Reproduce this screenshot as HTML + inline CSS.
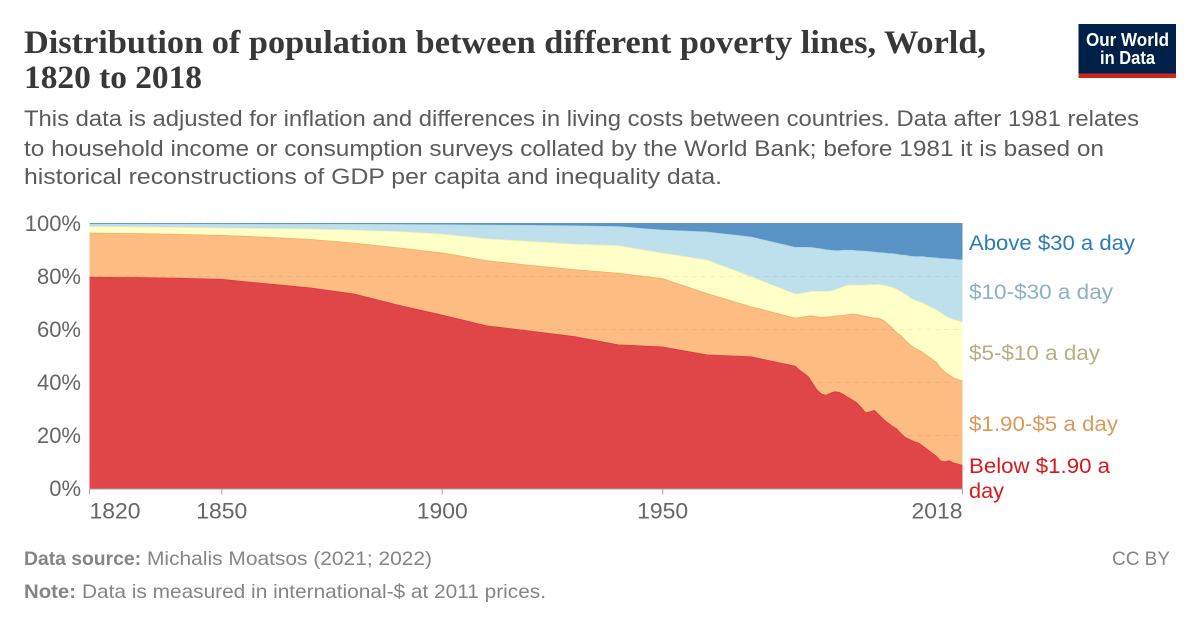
<!DOCTYPE html>
<html lang="en">
<head>
<meta charset="utf-8">
<title>Distribution of population between different poverty lines, World, 1820 to 2018</title>
<style>
html,body{margin:0;padding:0;background:#fff;width:1200px;height:627px;overflow:hidden}
svg{display:block;font-family:"Liberation Sans",sans-serif}
.title{font-family:"Liberation Serif",serif;font-weight:700;font-size:33px;fill:#383838}
.sub{font-size:22.5px;fill:#5b5b5b}
.foot{font-size:19.5px;fill:#858585}
.tick{font-size:22px;fill:#666}
.legend{font-size:21.5px}
</style>
</head>
<body>
<svg id="figure" xmlns="http://www.w3.org/2000/svg" width="1200" height="627" viewBox="0 0 1200 627">
  <rect x="0" y="0" width="1200" height="627" fill="#fff"/>
  <text class="title" x="24" y="53" textLength="962" lengthAdjust="spacingAndGlyphs">Distribution of population between different poverty lines, World,</text>
  <text class="title" x="24" y="88" textLength="178" lengthAdjust="spacingAndGlyphs">1820 to 2018</text>
  <text class="sub" x="24" y="126" textLength="1115" lengthAdjust="spacingAndGlyphs">This data is adjusted for inflation and differences in living costs between countries. Data after 1981 relates</text>
  <text class="sub" x="24" y="156" textLength="1080" lengthAdjust="spacingAndGlyphs">to household income or consumption surveys collated by the World Bank; before 1981 it is based on</text>
  <text class="sub" x="24" y="184" textLength="698" lengthAdjust="spacingAndGlyphs">historical reconstructions of GDP per capita and inequality data.</text>

  <g>
    <rect x="1078.500" y="24" width="97.500" height="54" fill="#002147"/>
    <rect x="1078.500" y="73.500" width="97.500" height="4.500" fill="#ce261e"/>
    <text x="1127.500" y="46" text-anchor="middle" fill="#fff" font-size="18" font-weight="700" textLength="83" lengthAdjust="spacingAndGlyphs">Our World</text>
    <text x="1127.500" y="64" text-anchor="middle" fill="#fff" font-size="18" font-weight="700" textLength="55" lengthAdjust="spacingAndGlyphs">in Data</text>
  </g>

  <g id="plot"></g>

  <text class="foot" x="24" y="565" font-weight="700" textLength="117" lengthAdjust="spacingAndGlyphs">Data source:</text>
  <text class="foot" x="147" y="565" textLength="285" lengthAdjust="spacingAndGlyphs">Michalis Moatsos (2021; 2022)</text>
  <text class="foot" x="1112" y="565" textLength="58" lengthAdjust="spacingAndGlyphs">CC BY</text>
  <text class="foot" x="24" y="598" font-weight="700" textLength="52" lengthAdjust="spacingAndGlyphs">Note:</text>
  <text class="foot" x="82" y="598" textLength="464" lengthAdjust="spacingAndGlyphs">Data is measured in international-$ at 2011 prices.</text>
</svg>
<script>
const years = [1820,1830,1840,1850,1860,1870,1880,1890,1900,1910,1920,1930,1940,1950,1960,1970,1980,
  1981,1982,1983,1984,1985,1986,1987,1988,1989,1990,1991,1992,1993,1994,1995,1996,1997,1998,1999,
  2000,2001,2002,2003,2004,2005,2006,2007,2008,2009,2010,2011,2012,2013,2014,2015,2016,2017,2018];
// Share of world population (%) living below each threshold
const shareBelow190 = [79.7,79.6,79.4,78.9,77.3,75.7,73.4,69.2,65.4,61.4,59.4,57.3,54.2,53.4,50.4,49.7,46.2,
  44.7,43.5,42.2,39.7,37.2,35.7,35.2,35.9,36.5,36.3,35.5,34.4,33.4,32.4,30.6,28.6,28.9,29.5,27.9,
  26.2,24.8,23.6,22.6,20.8,19.3,18.5,17.7,17.2,16,14.8,13.5,12.3,10.4,10.1,10.5,9.6,9.2,8.7];
const shareBelow5 = [96.4,96.2,95.9,95.5,94.8,94,92.6,90.8,88.9,86,84.2,82.6,81.2,79.2,73.6,68.6,64.3,
  64.5,64.8,65.1,65.1,64.8,64.6,64.7,64.8,65.1,65.2,65.3,65.6,65.8,65.7,65.3,65,64.6,64.3,64.3,
  63.5,62.2,60.7,58.9,57.7,56,54.4,53.1,52.3,51.3,50.1,48.9,47.7,45.5,44,42.8,41.7,41.1,40.6];
const shareBelow10 = [98.8,98.7,98.5,98.3,98.1,97.9,97.5,96.9,96,94.2,93.2,92.2,91.6,88.8,86.2,80,73.4,
  73.5,73.8,74.1,74.4,74.4,74.4,74.4,74.4,75,75.5,76.2,76.7,76.8,76.7,76.7,76.8,76.9,76.9,77,
  76.7,76.3,75.9,75.3,74.3,73.3,72.1,71.2,70.5,70,69.1,68.2,67.4,66.3,65.2,64.3,63.7,63.3,62.7];
const shareBelow30 = [99.8,99.8,99.8,99.8,99.7,99.7,99.7,99.6,99.5,99.4,99.3,99.1,98.8,97.5,96.8,94.9,91,
  91,91,91,90.9,90.6,90.4,90.1,89.9,89.7,89.7,89.9,89.9,89.9,89.7,89.6,89.5,89.4,89.2,89,
  88.9,88.7,88.6,88.4,88.1,88,87.7,87.5,87.5,87.5,87.2,87.1,87,86.8,86.7,86.6,86.5,86.3,86.2];
const shareTotal = years.map(function(){ return 100; });
const yTickValues = [0,20,40,60,80,100];
const xTickYears = [1820,1850,1900,1950,2018];

const NS = 'http://www.w3.org/2000/svg';
const plot = document.getElementById('plot');
const X0 = 89.5, X1 = 962.5, Y0 = 488.5, Y1 = 223.5;
function xScale(year){ return X0 + (year - years[0]) / (years[years.length-1] - years[0]) * (X1 - X0); }
function yScale(v){ return Y0 - v / 100 * (Y0 - Y1); }
function make(tag, attrs){
  const el = document.createElementNS(NS, tag);
  Object.keys(attrs).forEach(function(k){ el.setAttribute(k, attrs[k]); });
  return el;
}
function linePoints(vals){
  return years.map(function(yr, i){ return xScale(yr).toFixed(2) + ',' + yScale(vals[i]).toFixed(2); });
}
const zeros = years.map(function(){ return 0; });

// Areas, bottom to top
const bands = [
  {name:'below-1-90', top:shareBelow190, bottom:zeros, fill:'#e04648', line:'#d93a3c'},
  {name:'1-90-to-5', top:shareBelow5, bottom:shareBelow190, fill:'#fdbd82', line:'#f5ac6c'},
  {name:'5-to-10', top:shareBelow10, bottom:shareBelow5, fill:'#ffffc8', line:'#f3f1b8'},
  {name:'10-to-30', top:shareBelow30, bottom:shareBelow10, fill:'#bde0ec', line:'#b0d6e4'},
  {name:'above-30', top:shareTotal, bottom:shareBelow30, fill:'#5a94c6', line:'#4a86bb'}
];
bands.forEach(function(b){
  const pts = linePoints(b.top).concat(linePoints(b.bottom).reverse());
  const area = make('polygon', {points: pts.join(' '), fill: b.fill, stroke: 'none'});
  
  
  plot.appendChild(area);
});
bands.forEach(function(b){
  const line = make('polyline', {points: linePoints(b.top).join(' '), fill: 'none', stroke: b.line, 'stroke-width': 0.8});
  
  
  plot.appendChild(line);
});

// Grid + y ticks
yTickValues.forEach(function(v){
  if (v > 0) {
    const grid = make('line', {x1: X0, x2: X1, y1: yScale(v), y2: yScale(v), stroke: '#666', 'stroke-opacity': 0.13, 'stroke-dasharray': '4 5'});
    
    
    plot.appendChild(grid);
  }
  const label = make('text', {x: 81, y: yScale(v) + 7.5, 'text-anchor': 'end', 'class': 'tick'});
  label.textContent = v + '%';
  
  
  plot.appendChild(label);
});

// X axis
const axis = make('line', {x1: X0, x2: X1, y1: Y0 + 0.5, y2: Y0 + 0.5, stroke: '#a1a1a1', 'stroke-width': 1});


plot.appendChild(axis);
xTickYears.forEach(function(yr, i){
  const x = xScale(yr);
  const t = make('line', {x1: x, x2: x, y1: Y0 + 0.5, y2: Y0 + 6, stroke: '#a1a1a1', 'stroke-width': 1});
  
  
  plot.appendChild(t);
  const anchor = i === 0 ? 'start' : (i === xTickYears.length - 1 ? 'end' : 'middle');
  const label = make('text', {x: x, y: 518.5, 'text-anchor': anchor, 'class': 'tick', textLength: 51, lengthAdjust: 'spacingAndGlyphs'});
  label.textContent = String(yr);
  
  
  plot.appendChild(label);
});

// Series labels
const legendItems = [
  {name:'above-30', text:'Above $30 a day', y:250, w:166, c:'#2c7cb8'},
  {name:'10-to-30', text:'$10-$30 a day', y:299, w:144, c:'#8cb2c3'},
  {name:'5-to-10', text:'$5-$10 a day', y:360, w:131, c:'#b3b182'},
  {name:'1-90-to-5', text:'$1.90-$5 a day', y:431, w:149, c:'#dc9a5a'},
  {name:'below-1-90-line-1', text:'Below $1.90 a', y:473, w:141, c:'#d7191c'},
  {name:'below-1-90-line-2', text:'day', y:498, w:35, c:'#d7191c'}
];
legendItems.forEach(function(it){
  const label = make('text', {x: 969, y: it.y, fill: it.c, 'class': 'legend', textLength: it.w, lengthAdjust: 'spacingAndGlyphs'});
  label.textContent = it.text;
  
  
  plot.appendChild(label);
});
</script>
</body>
</html>
